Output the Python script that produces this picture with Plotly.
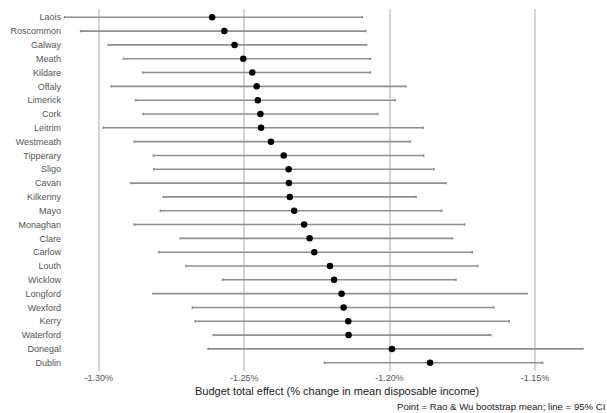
import plotly.graph_objects as go

counties = ["Laois", "Roscommon", "Galway", "Meath", "Kildare", "Offaly", "Limerick", "Cork",
            "Leitrim", "Westmeath", "Tipperary", "Sligo", "Cavan", "Kilkenny", "Mayo", "Monaghan",
            "Clare", "Carlow", "Louth", "Wicklow", "Longford", "Wexford", "Kerry", "Waterford",
            "Donegal", "Dublin"]
means = [-1.2610, -1.2568, -1.2533, -1.2503, -1.2472, -1.2457, -1.2453, -1.2444,
         -1.2442, -1.2408, -1.2364, -1.2347, -1.2346, -1.2343, -1.2328, -1.2294,
         -1.2275, -1.2259, -1.2205, -1.2191, -1.2165, -1.2158, -1.2142, -1.2141,
         -1.1992, -1.1861]
ci_low = [-1.3118, -1.3062, -1.2967, -1.2915, -1.2848, -1.2957, -1.2873, -1.2847,
          -1.2984, -1.2878, -1.2812, -1.2810, -1.2889, -1.2778, -1.2788, -1.2878,
          -1.2719, -1.2793, -1.2700, -1.2574, -1.2813, -1.2678, -1.2668, -1.2606,
          -1.2624, -1.2224]
ci_high = [-1.2094, -1.2082, -1.2079, -1.2066, -1.2066, -1.1944, -1.1981, -1.2041,
           -1.1885, -1.1929, -1.1883, -1.1848, -1.1806, -1.1909, -1.1821, -1.1742,
           -1.1784, -1.1716, -1.1697, -1.1772, -1.1528, -1.1642, -1.1589, -1.1652,
           -1.1336, -1.1474]
tick_vals = [-1.30, -1.25, -1.20, -1.15]
tick_text = ["-1.30%", "-1.25%", "-1.20%", "-1.15%"]

W, H = 607, 413
ml, mr, mt, mb = 64, 0, 9, 42
plot_w = W - ml - mr
plot_h = H - mt - mb

fig = go.Figure()
fig.add_trace(go.Scatter(
    x=means, y=counties, mode="markers",
    marker=dict(color="black", size=6.5),
    error_x=dict(type="data", symmetric=False,
                 array=[h - m for h, m in zip(ci_high, means)],
                 arrayminus=[m - l for m, l in zip(means, ci_low)],
                 color="#8f8f8f", thickness=1.6, width=1.2),
    showlegend=False, hoverinfo="x+y"))

# map pixels: -1.30 at x=98.7px, 2909 px per 1 unit
px_per = 2909.0
x0 = -1.30 + (ml - 98.7) / px_per
x1 = -1.30 + (W - mr - 98.7) / px_per

fig.update_layout(
    width=W, height=H,
    margin=dict(l=ml, r=mr, t=mt, b=mb, autoexpand=False),
    paper_bgcolor="white", plot_bgcolor="white",
    font=dict(family="Liberation Sans, Arial, sans-serif", size=9, color="#555555"),
    xaxis=dict(range=[x0, x1], tickvals=tick_vals, ticktext=tick_text,
               showgrid=True, gridcolor="#d6d6d6", gridwidth=1.5, zeroline=False,
               showline=False, ticks="", tickfont=dict(size=9, color="#555555"),
               automargin=False),
    yaxis=dict(categoryorder="array", categoryarray=counties[::-1],
               range=[-0.6, len(counties) - 0.4],
               showgrid=False, zeroline=False, showline=False, ticks="",
               tickfont=dict(size=9, color="#555555"), automargin=False,
               ticklabelstandoff=2),
    annotations=[
        dict(text="Budget total effect (% change in mean disposable income)",
             xref="paper", yref="paper", x=(336.5 - ml) / plot_w, y=-(391 - (mt + plot_h)) / plot_h,
             xanchor="center", yanchor="middle", showarrow=False,
             font=dict(size=11, color="#1a1a1a")),
        dict(text="Point = Rao & Wu bootstrap mean; line = 95% CI",
             xref="paper", yref="paper", x=1.0, y=-(406 - (mt + plot_h)) / plot_h,
             xanchor="right", yanchor="middle", showarrow=False,
             font=dict(size=9.6, color="#1a1a1a"))],
)

fig.write_html("out.html", config={"displayModeBar": False},
               post_script="document.body.style.margin='0';document.body.style.padding='0';")
